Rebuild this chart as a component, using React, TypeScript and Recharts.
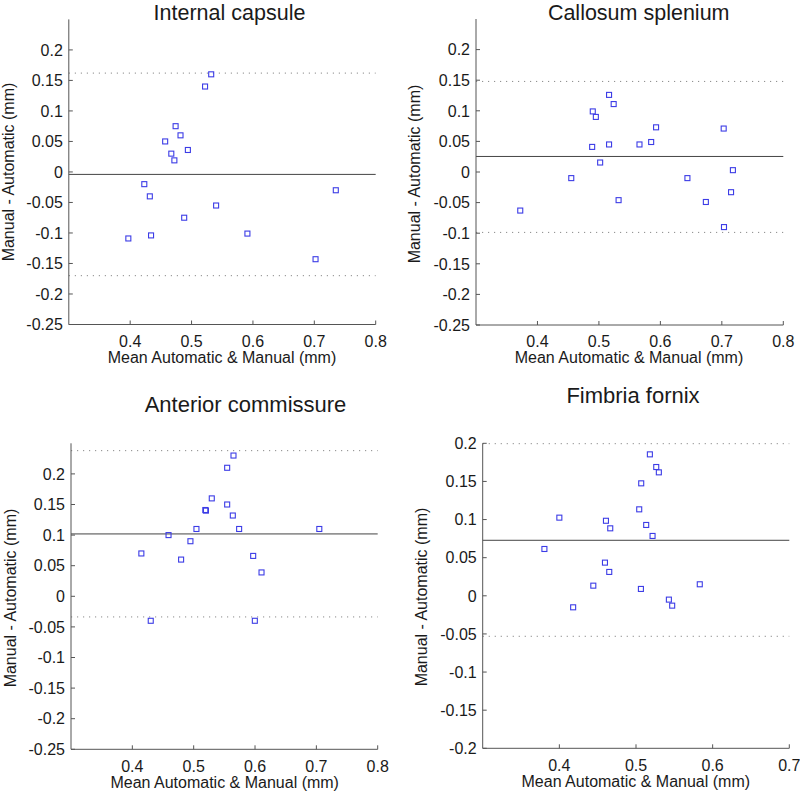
import React from 'react';
import { ScatterChart, Scatter, XAxis, YAxis, ReferenceLine } from 'recharts';

// ---------- data ----------
const icX = [0.532, 0.522, 0.474, 0.482, 0.457, 0.494, 0.467, 0.472, 0.423, 0.432, 0.735, 0.540, 0.488, 0.434, 0.397, 0.591, 0.702];
const icY = [0.160, 0.140, 0.075, 0.060, 0.050, 0.036, 0.030, 0.019, -0.020, -0.040, -0.030, -0.055, -0.075, -0.104, -0.109, -0.101, -0.143];
const icLines = [-0.004, 0.162, -0.170]; // mean, upper, lower

const csX = [0.372, 0.455, 0.490, 0.495, 0.489, 0.502, 0.5165, 0.524, 0.5165, 0.532, 0.566, 0.585, 0.593, 0.644, 0.674, 0.703, 0.7035, 0.715, 0.718];
const csY = [-0.063, -0.010, 0.099, 0.090, 0.041, 0.0155, 0.126, 0.111, 0.045, -0.046, 0.045, 0.049, 0.073, -0.010, -0.049, 0.071, -0.090, -0.033, 0.003];
const csLines = [0.0254, 0.148, -0.0987];

const acX = [0.4147, 0.430, 0.459, 0.4795, 0.4947, 0.5045, 0.519, 0.520, 0.5295, 0.5546, 0.5649, 0.5546, 0.5638, 0.5741, 0.597, 0.5997, 0.6106, 0.7048];
const acY = [0.070, -0.040, 0.100, 0.060, 0.090, 0.110, 0.141, 0.140, 0.160, 0.210, 0.230, 0.150, 0.132, 0.110, 0.066, -0.040, 0.039, 0.110];
const acLines = [0.1019, 0.238, -0.0337];

const ffX = [0.3805, 0.400, 0.418, 0.4443, 0.4595, 0.4608, 0.4651, 0.4664, 0.5042, 0.5064, 0.5068, 0.5133, 0.5181, 0.5216, 0.5264, 0.5298, 0.5429, 0.5472, 0.5832];
const ffY = [0.0614, 0.1025, -0.0151, 0.0133, 0.0435, 0.0984, 0.0313, 0.0885, 0.1134, 0.009, 0.1475, 0.0929, 0.1855, 0.0785, 0.1689, 0.1619, -0.005, -0.0129, 0.0151];
const ffLines = [0.0728, 0.1995, -0.0531];

const titles = ['Internal capsule', 'Callosum splenium', 'Anterior commissure', 'Fimbria fornix'];
const xLabel = 'Mean Automatic & Manual (mm)';
const yLabel = 'Manual - Automatic (mm)';

const xTicksA = [0.4, 0.5, 0.6, 0.7, 0.8];
const xTicksB = [0.4, 0.5, 0.6, 0.7];
const yTicksA = [-0.25, -0.2, -0.15, -0.1, -0.05, 0, 0.05, 0.1, 0.15, 0.2];
const yTicksB = [-0.2, -0.15, -0.1, -0.05, 0, 0.05, 0.1, 0.15, 0.2];

const xDomainA = [0.3, 0.8];
const xDomainB = [0.3, 0.7];
const yDomainA = [-0.25, 0.25];
const yDomainB = [-0.2, 0.2];

const zip = (xs: number[], ys: number[]) => xs.map((x, i) => ({ x, y: ys[i] }));

// ---------- styling / layout ----------
const FONT = '"Liberation Sans", Arial, Helvetica, sans-serif';
const TM_Y = 6;
const TM_X = 7;
const AXIS_COLOR = '#555';
const MARK = '#3c3ce6';

const fmt = (v: number) => String(Number(v.toFixed(2)));

const YTick = (props: any) => {
  const { x, y, payload } = props;
  const ax = x + TM_Y;
  return (
    <g>
      <line x1={ax} x2={ax + 4} y1={y} y2={y} stroke={AXIS_COLOR} strokeWidth={1} />
      <text x={x} y={y} dy="0.36em" textAnchor="end" fontSize={16} fontFamily={FONT} fill="#1a1a1a">
        {fmt(payload.value)}
      </text>
    </g>
  );
};

const XTick = (props: any) => {
  const { x, y, payload } = props;
  const ay = y - TM_X;
  return (
    <g>
      <line x1={x} x2={x} y1={ay} y2={ay - 4} stroke={AXIS_COLOR} strokeWidth={1} />
      <text x={x} y={y} dy="0.95em" textAnchor="middle" fontSize={16} fontFamily={FONT} fill="#1a1a1a">
        {fmt(payload.value)}
      </text>
    </g>
  );
};

const Square = (p: any) => (
  <rect x={p.cx - 2.5} y={p.cy - 2.5} width={5} height={5} fill="none" stroke={MARK} strokeWidth={1.1} />
);

type PanelProps = {
  data: { x: number; y: number }[];
  lines: number[];
  xDomain: number[];
  yDomain: number[];
  xTicks: number[];
  yTicks: number[];
  left: number;
  top: number;
  width: number;
  height: number;
  plot: { l: number; t: number; r: number; b: number };
};

const YW = 60;
const XH = 30;

const Panel = ({ data, lines, xDomain, yDomain, xTicks, yTicks, left, top, width, height, plot }: PanelProps) => {
  const margin = {
    left: plot.l - YW,
    top: plot.t,
    right: width - plot.r,
    bottom: height - plot.b - XH,
  };
  return (
    <div style={{ position: 'absolute', left, top, width, height }}>
      <ScatterChart width={width} height={height} margin={margin}>
        <XAxis
          type="number"
          dataKey="x"
          domain={xDomain}
          ticks={xTicks}
          allowDataOverflow
          height={XH}
          tickSize={0}
          tickMargin={TM_X}
          tickLine={false}
          axisLine={{ stroke: AXIS_COLOR, strokeWidth: 1 }}
          tick={<XTick />}
          interval={0}
        />
        <YAxis
          type="number"
          dataKey="y"
          domain={yDomain}
          ticks={yTicks}
          allowDataOverflow
          width={YW}
          tickSize={0}
          tickMargin={TM_Y}
          tickLine={false}
          axisLine={{ stroke: AXIS_COLOR, strokeWidth: 1 }}
          tick={<YTick />}
          interval={0}
        />
        <ReferenceLine y={lines[1]} stroke="#8a8a8a" strokeWidth={1} strokeDasharray="1.2 4.8" />
        <ReferenceLine y={lines[2]} stroke="#8a8a8a" strokeWidth={1} strokeDasharray="1.2 4.8" />
        <ReferenceLine y={lines[0]} stroke="#444" strokeWidth={1} />
        <Scatter data={data} isAnimationActive={false} shape={<Square />} />
      </ScatterChart>
    </div>
  );
};

const textStyle = { fontFamily: FONT, fill: '#1a1a1a' };

export default function App() {
  return (
    <div style={{ position: 'absolute', left: 0, top: 0, width: 800, height: 792, background: '#fff', overflow: 'hidden' }}>
      <Panel
        data={zip(icX, icY)} lines={icLines}
        xDomain={xDomainA} yDomain={yDomainA} xTicks={xTicksA} yTicks={yTicksA}
        left={0} top={0} width={400} height={380}
        plot={{ l: 68.8, t: 19.4, r: 375.7, b: 324.5 }}
      />
      <Panel
        data={zip(csX, csY)} lines={csLines}
        xDomain={xDomainA} yDomain={yDomainA} xTicks={xTicksA} yTicks={yTicksA}
        left={400} top={0} width={400} height={380}
        plot={{ l: 76, t: 19, r: 383.3, b: 325 }}
      />
      <Panel
        data={zip(acX, acY)} lines={acLines}
        xDomain={xDomainA} yDomain={yDomainA} xTicks={xTicksA} yTicks={yTicksA}
        left={0} top={400} width={400} height={392}
        plot={{ l: 71, t: 43.3, r: 377.7, b: 349.3 }}
      />
      <Panel
        data={zip(ffX, ffY)} lines={ffLines}
        xDomain={xDomainB} yDomain={yDomainB} xTicks={xTicksB} yTicks={yTicksB}
        left={400} top={400} width={400} height={392}
        plot={{ l: 82.7, t: 43.3, r: 389.3, b: 348.3 }}
      />
      <svg width={800} height={792} style={{ position: 'absolute', left: 0, top: 0, pointerEvents: 'none' }}>
        <text x={229.5} y={19.5} textAnchor="middle" fontSize={21.5} {...textStyle}>{titles[0]}</text>
        <text x={638.7} y={19.5} textAnchor="middle" fontSize={21.5} {...textStyle}>{titles[1]}</text>
        <text x={245.5} y={412.3} textAnchor="middle" fontSize={22} {...textStyle}>{titles[2]}</text>
        <text x={633} y={403.3} textAnchor="middle" fontSize={22} {...textStyle}>{titles[3]}</text>

        <text x={222} y={363} textAnchor="middle" fontSize={16} {...textStyle}>{xLabel}</text>
        <text x={629} y={363} textAnchor="middle" fontSize={16} {...textStyle}>{xLabel}</text>
        <text x={224.7} y={787.5} textAnchor="middle" fontSize={16} {...textStyle}>{xLabel}</text>
        <text x={635.8} y={787.3} textAnchor="middle" fontSize={16} {...textStyle}>{xLabel}</text>

        <text transform="translate(14,172) rotate(-90)" textAnchor="middle" fontSize={16} {...textStyle}>{yLabel}</text>
        <text transform="translate(420,174) rotate(-90)" textAnchor="middle" fontSize={16} {...textStyle}>{yLabel}</text>
        <text transform="translate(16,598) rotate(-90)" textAnchor="middle" fontSize={16} {...textStyle}>{yLabel}</text>
        <text transform="translate(426.5,597) rotate(-90)" textAnchor="middle" fontSize={16} {...textStyle}>{yLabel}</text>
      </svg>
    </div>
  );
}
